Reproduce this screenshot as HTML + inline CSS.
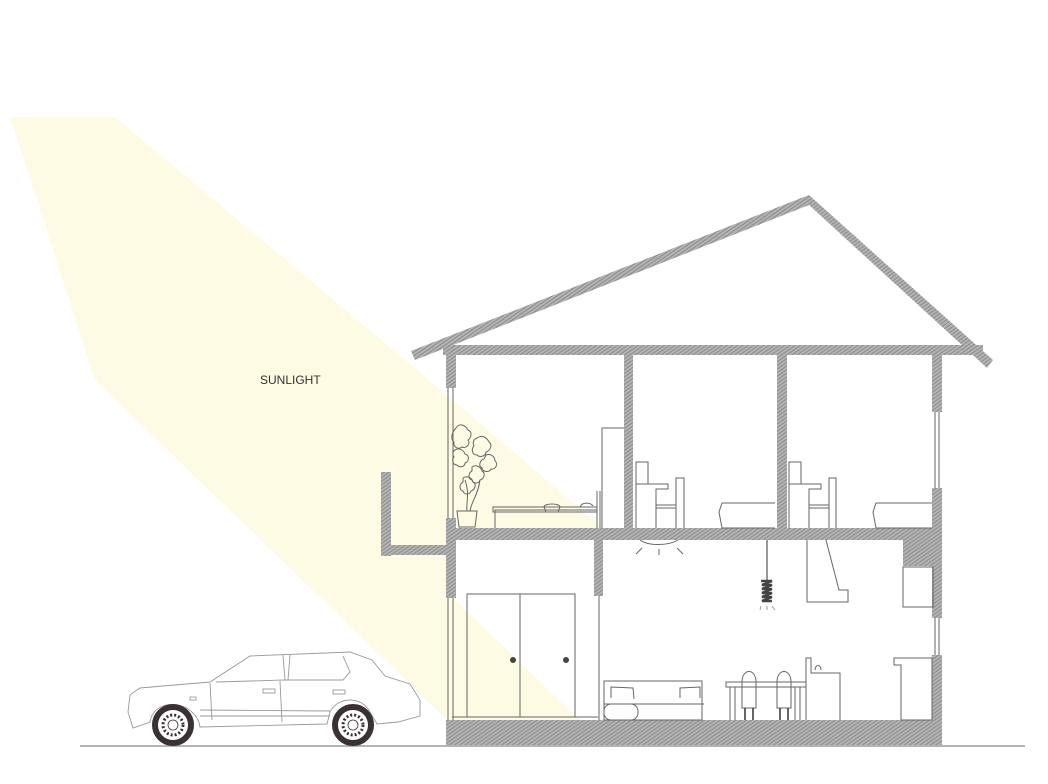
<!DOCTYPE html>
<html><head><meta charset="utf-8"><style>
html,body{margin:0;padding:0;background:#fff;}
svg{display:block;}
</style></head><body>
<svg width="1048" height="784" viewBox="0 0 1048 784" xmlns="http://www.w3.org/2000/svg">
<defs>
<pattern id="h" width="3" height="3" patternUnits="userSpaceOnUse" patternTransform="rotate(-35)">
<rect width="3" height="3" fill="#b4b4b4"/>
<line x1="0" y1="1" x2="3" y2="1" stroke="#858585" stroke-width="0.9"/>
</pattern>
</defs>
<!-- sunlight -->
<polygon points="10,117 115,117 447,395 605,530 447,540 452,597 580,720 447,720 95,380" fill="#fefbe4"/>
<polygon points="452,597 580,720 452,720" fill="#fefbe4"/>
<text x="260" y="384" font-family="Liberation Sans, sans-serif" font-size="12" fill="#333">SUNLIGHT</text>

<!-- ground line -->
<line x1="80" y1="746" x2="1025" y2="746" stroke="#9a9a9a" stroke-width="1.5"/>

<g fill="url(#h)">
<!-- roof -->
<polygon points="411,351 809,195 993,360 987,368 809,205 415,360"/>
<!-- ceiling slab -->
<rect x="443" y="345" width="540" height="10"/>
<!-- left wall -->
<rect x="446" y="352" width="10" height="36"/>
<rect x="446" y="518" width="10" height="80"/>
<!-- balcony -->
<rect x="381" y="472" width="10" height="84"/>
<rect x="381" y="545" width="70" height="10"/>
<!-- mid floor slab -->
<rect x="450" y="528" width="490" height="12"/>
<rect x="903" y="528" width="38" height="38"/>
<!-- upper interior walls -->
<rect x="624" y="352" width="9" height="178"/>
<rect x="777" y="352" width="10" height="178"/>
<!-- right wall -->
<rect x="932" y="352" width="10" height="60"/>
<rect x="932" y="488" width="10" height="130"/>
<rect x="932" y="655" width="10" height="70"/>
<!-- lower interior wall -->
<rect x="594" y="538" width="9" height="58"/>
<!-- ground slab -->
<rect x="446" y="720" width="496" height="25"/>
</g>

<g fill="none" stroke="#666" stroke-width="1">
<!-- windows -->
<line x1="448" y1="388" x2="448" y2="518"/><line x1="453" y1="388" x2="453" y2="518"/>
<line x1="448" y1="598" x2="448" y2="720"/><line x1="453" y1="598" x2="453" y2="720"/>
<line x1="935" y1="412" x2="935" y2="488"/><line x1="939" y1="412" x2="939" y2="488"/>
<line x1="935" y1="618" x2="935" y2="655"/><line x1="939" y1="618" x2="939" y2="655"/>
<line x1="599" y1="596" x2="599" y2="720"/>
<!-- plant -->
<path d="M459,527 L457,511 L477,511 L475,527 Z"/>
<path d="M467,511 C466,500 470,495 465,480 M470,511 C472,500 478,495 480,480" />
<path d="M456,428 c4,-6 10,-2 12,2 c5,2 3,8 0,10 c3,4 -2,9 -6,7 c-4,3 -9,0 -8,-5 c-4,-3 -2,-10 2,-14 z"/>
<path d="M477,438 c5,-4 10,0 12,4 c4,3 1,9 -3,10 c0,4 -6,6 -9,3 c-5,0 -6,-6 -3,-9 c-2,-4 0,-7 3,-8 z"/>
<path d="M455,450 c5,-3 9,1 10,4 c5,1 4,8 0,9 c0,4 -6,5 -8,2 c-5,0 -5,-6 -3,-8 c-2,-3 -1,-6 1,-7 z"/>
<path d="M486,455 c5,-2 9,2 9,6 c4,3 0,9 -4,8 c-2,4 -8,3 -9,-1 c-4,-2 -2,-8 2,-9 z"/>
<path d="M472,467 c4,-3 9,0 10,4 c4,2 2,8 -2,9 c-1,4 -7,4 -8,0 c-4,-1 -4,-7 0,-9 z"/>
<path d="M463,478 c4,-3 9,0 10,4 c4,2 2,8 -2,9 c-1,4 -7,4 -8,0 c-4,-1 -4,-7 0,-9 z"/>
<!-- bed upper left -->
<path d="M495,528 L495,510 L597,510 L597,528"/>
<path d="M493,507 L597,507 L597,512 L493,512 Z"/>
<path d="M544,507 c0,-4 16,-4 16,0 l-2,5 h-12 z"/>
<path d="M580,507 c2,-5 10,-5 13,-1"/>
<line x1="597" y1="491" x2="597" y2="528"/><line x1="600" y1="491" x2="600" y2="528"/>
<path d="M602,528 L602,428 L624,428"/>
<!-- desks -->
<path d="M636,528 L636,484 L668,484 L668,489 L656,489 L656,528"/>
<path d="M636,484 L636,462 L648,462 L648,484"/>
<path d="M656,508 L676,508 M676,528 L676,478 L684,478 L684,528 M656,505 L676,505"/>
<path d="M789,528 L789,484 L821,484 L821,489 L809,489 L809,528"/>
<path d="M789,484 L789,462 L801,462 L801,484"/>
<path d="M809,508 L829,508 M829,528 L829,478 L836,478 L836,528 M809,505 L829,505"/>
<!-- beds right -->
<path d="M775,503 L722,503 L719,512 L722,528 L775,528"/>
<path d="M932,503 L876,503 L873,512 L876,528 L932,528"/>
<!-- lamp -->
<path d="M640,540 c8,6 28,6 38,0"/>
<line x1="659" y1="549" x2="659" y2="555"/>
<line x1="642" y1="548" x2="636" y2="554"/><line x1="677" y1="548" x2="683" y2="554"/>
<line x1="767" y1="540" x2="767" y2="580" stroke="#333"/>
<!-- hood -->
<path d="M807,540 L807,602 L848,602 L848,590 L839,590 L826,540"/>
<rect x="903" y="567" width="30" height="40"/>
<!-- closet -->
<rect x="467" y="594" width="108" height="123"/>
<line x1="520" y1="594" x2="520" y2="717"/>
<line x1="452" y1="717" x2="598" y2="717"/>
<!-- sofa -->
<rect x="604" y="681" width="98" height="39"/>
<path d="M611,698 l0,-11 l22,1 l1,11 M680,698 l0,-10 l20,-1 l0,11"/>
<line x1="604" y1="704" x2="704" y2="704"/>
<rect x="604" y="704" width="34" height="16" rx="7"/>
<!-- table/chairs -->
<path d="M726,682 L806,682 L806,687 L726,687 Z M730,687 L730,720 M735,687 L735,720 M800,687 L800,720 M795,687 L795,720"/>
<path d="M742,708 L742,682 c0,-14 14,-14 14,0 L756,708 Z"/>
<path d="M777,708 L777,682 c0,-14 14,-14 14,0 L791,708 Z"/>
<!-- sink -->
<path d="M806,720 L806,658 L811,658 L811,673 L840,673 L840,720"/>
<path d="M815,670 c0,-6 6,-6 6,0"/>
<!-- counter -->
<path d="M894,658 L932,658 L932,720 L901,720 L901,665 L894,665 Z"/>
</g>
<g stroke="#333" stroke-width="1.5">
<line x1="745" y1="708" x2="745" y2="720"/><line x1="753" y1="708" x2="753" y2="720"/>
<line x1="780" y1="708" x2="780" y2="720"/><line x1="788" y1="708" x2="788" y2="720"/>
</g>
<path d="M761,581 h11 l-10,4 h10 l-10,4 h10 l-10,4 h10 l-10,4 h10 l-10,4 h10" fill="none" stroke="#444" stroke-width="2.5"/>
<g stroke="#888" stroke-width="0.8"><line x1="761" y1="606" x2="760" y2="610"/><line x1="767" y1="606" x2="767" y2="610"/><line x1="772" y1="606" x2="775" y2="610"/></g>
<circle cx="513" cy="660" r="3" fill="#444"/><circle cx="566" cy="660" r="3" fill="#444"/>

<!-- car -->
<g fill="none" stroke="#999" stroke-width="0.9">
<path d="M133,728 L128,712 L130,695 L140,688 L210,682 L250,656 L350,652 L372,660 L385,676 L410,684 L420,700 L420,716 L398,722 L377,724 L370,712 C362,696 338,696 330,712 L327,724 L200,727 C196,700 154,696 150,722 Z"/>
<path d="M216,682 L285,680 L283,655 M285,680 L343,680 L350,672 L343,656 M290,655 L288,680"/>
<path d="M210,683 L212,720 M280,681 L282,722"/>
<line x1="200" y1="710" x2="330" y2="711"/><line x1="200" y1="716" x2="330" y2="716"/>
<rect x="263" y="689" width="12" height="4"/><rect x="333" y="690" width="12" height="4"/>
<rect x="190" y="697" width="6" height="3"/>
</g>
<g fill="none" stroke="#3a3232">
<circle cx="173" cy="725" r="18" stroke-width="6"/><circle cx="173" cy="725" r="10" stroke-width="3" stroke-dasharray="2 2"/><circle cx="173" cy="725" r="5" stroke-width="0.8"/>
<circle cx="353" cy="725" r="18" stroke-width="6"/><circle cx="353" cy="725" r="10" stroke-width="3" stroke-dasharray="2 2"/><circle cx="353" cy="725" r="5" stroke-width="0.8"/>
</g>
</svg>
</body></html>
